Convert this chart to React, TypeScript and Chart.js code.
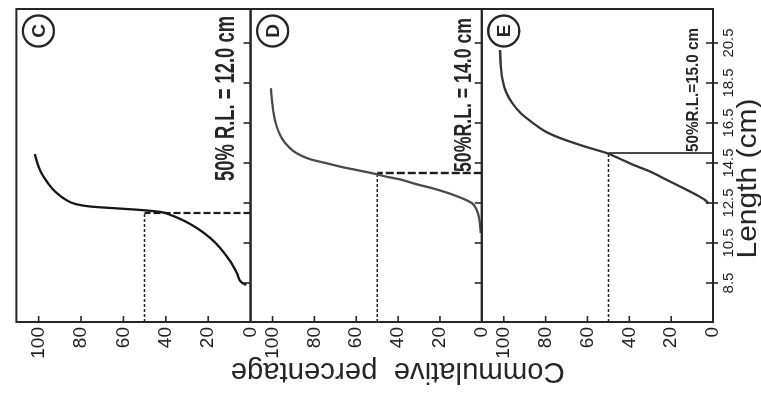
import { useEffect, useRef } from "react";
import { Chart, registerables } from "chart.js";

Chart.register(...registerables);

// ---------- data ----------
const panelNames = ["C", "D", "E"];
const lengthTicks = [8.5, 10.5, 12.5, 14.5, 16.5, 18.5, 20.5];
const percentTicks = [0, 20, 40, 60, 80, 100];
const lengthMin = 6.55;
const lengthMax = 22.2;
const percentMax = 110.5;

const lengthC = [8.4, 8.52, 8.99, 9.57, 10.24, 10.74, 11.24, 11.62, 11.9, 12.05, 12.15, 12.24, 12.32, 12.44, 12.65, 13.02, 13.49, 13.99, 14.49, 14.95];
const percentC = [2.0, 4.2, 6.4, 9.5, 14.2, 18.9, 25.2, 31.5, 37.7, 42.4, 51.8, 64.3, 75.3, 82.3, 87.0, 91.7, 95.6, 98.7, 100.6, 101.8];

const lengthD = [11.0, 11.65, 12.15, 12.49, 12.74, 12.99, 13.24, 13.45, 13.69, 13.82, 13.95, 14.12, 14.29, 14.49, 14.69, 14.99, 15.32, 15.74, 16.32, 16.99, 17.65, 18.24];
const percentD = [0.6, 1.1, 2.4, 4.7, 9.5, 15.8, 23.7, 31.6, 39.5, 45.8, 50.6, 58.4, 66.4, 74.3, 82.1, 88.5, 92.4, 95.6, 98.0, 99.5, 100.3, 100.8];

const lengthE = [12.49, 12.65, 12.9, 13.24, 13.65, 14.07, 14.4, 14.74, 14.99, 15.19, 15.45, 15.74, 16.07, 16.52, 16.99, 17.49, 18.07, 18.65, 19.32, 20.15];
const percentE = [2.2, 3.8, 7.8, 14.1, 22.0, 30.0, 37.9, 45.1, 50.6, 57.0, 64.9, 72.9, 80.0, 86.3, 91.9, 95.9, 99.0, 100.6, 101.4, 101.8];

const rl50 = [12.0, 14.0, 15.0];
const rlLabels = ["50% R.L. = 12.0 cm", "50%R.L. = 14.0 cm", "50%R.L.=15.0 cm"];
const xTitle = "Length (cm)";
const yTitle = "Commulative  percentage";

// ---------- styles ----------
const INK = "#262626";
const NARROW = "'Liberation Sans Narrow', 'Liberation Sans', Arial, sans-serif";
const SANS = "'Liberation Sans', Arial, sans-serif";
const curveColors = ["#161616", "#4a4a4a", "#353535"];
const rlLineDash = [[7, 3], [8, 3], []];
const rlLineWidth = [2.2, 2.4, 1.6];
// annotation style per panel: start (length units), baseline offset from panel bottom, target width, font
const annoStyle = [
  { start: 13.6, base: 17, width: 165, font: `bold 27px ${NARROW}` },
  { start: 14.05, base: 11, width: 154, font: `bold 23px ${NARROW}` },
  { start: 15.05, base: 15, width: 124, font: `600 17px ${NARROW}` },
];

function pts(xs: number[], ys: number[]) {
  return xs.map((x, i) => ({ x, y: ys[i] }));
}

function fittedText(ctx: CanvasRenderingContext2D, text: string, x: number, y: number, w: number, font: string, align: CanvasTextAlign, rot = 0) {
  ctx.save();
  ctx.font = font;
  const m = ctx.measureText(text).width;
  ctx.translate(x, y);
  if (rot) ctx.rotate(rot);
  ctx.scale(w / m, 1);
  ctx.textAlign = align;
  ctx.textBaseline = "alphabetic";
  ctx.fillText(text, 0, 0);
  ctx.restore();
}

const extras = {
  id: "extras",
  afterDatasetsDraw(chart: any) {
    const { ctx, chartArea: ca, scales } = chart;
    const xs = scales.x;
    const panels = [scales.yC, scales.yD, scales.yE];
    ctx.save();
    ctx.strokeStyle = INK;
    ctx.fillStyle = INK;
    const line = (x1: number, y1: number, x2: number, y2: number) => {
      ctx.beginPath();
      ctx.moveTo(x1, y1);
      ctx.lineTo(x2, y2);
      ctx.stroke();
    };
    panels.forEach((ys: any, i: number) => {
      ctx.lineWidth = 2;
      ctx.setLineDash([]);
      ctx.strokeRect(ca.left, ys.top, ca.right - ca.left, ys.bottom - ys.top);
      ctx.lineWidth = 1.6;
      percentTicks.forEach((v) => {
        if (v === 0) return;
        const py = ys.getPixelForValue(v);
        line(ca.left, py, ca.left + 6, py);
      });
      lengthTicks.forEach((v) => {
        const px = xs.getPixelForValue(v);
        line(px, ys.bottom - 7, px, ys.bottom + (i === 2 ? 5 : 0));
      });
      // circled panel letter
      const cx = ca.right - 22;
      const cy = ys.top + 22;
      ctx.lineWidth = 2.4;
      ctx.beginPath();
      ctx.arc(cx, cy, 15.5, 0, Math.PI * 2);
      ctx.stroke();
      ctx.font = `bold 19px ${SANS}`;
      ctx.textAlign = "center";
      ctx.textBaseline = "middle";
      ctx.fillText(panelNames[i], cx, cy + 1);
      // 50% retention length annotation
      const a = annoStyle[i];
      fittedText(ctx, rlLabels[i], xs.getPixelForValue(a.start), ys.bottom - a.base, a.width, a.font, "left");
    });
    // axis titles
    const xMid = xs.getPixelForValue((lengthMin + lengthMax) / 2) - 13;
    fittedText(ctx, xTitle, xMid, 756, 160, `28px ${SANS}`, "center");
    const yMid = (panels[0].top + panels[2].bottom) / 2 + 33;
    fittedText(ctx, yTitle, 32, yMid, 334, `29px ${SANS}`, "center", -Math.PI / 2);
    ctx.restore();
  },
};

export default function App() {
  const ref = useRef<HTMLCanvasElement>(null);
  useEffect(() => {
    if (!ref.current) return;
    const curves = [pts(lengthC, percentC), pts(lengthD, percentD), pts(lengthE, percentE)];
    const axisIds = ["yC", "yD", "yE"];
    const datasets: any[] = [];
    curves.forEach((data, i) => {
      datasets.push({
        label: `Panel ${panelNames[i]}`,
        data,
        yAxisID: axisIds[i],
        showLine: true,
        pointRadius: 0,
        borderColor: curveColors[i],
        borderWidth: 2.3,
        cubicInterpolationMode: "monotone",
        fill: false,
      });
      datasets.push({
        label: `RL ${panelNames[i]}`,
        data: [{ x: rl50[i], y: 0 }, { x: rl50[i], y: 50 }],
        yAxisID: axisIds[i],
        showLine: true,
        pointRadius: 0,
        borderColor: "#1c1c1c",
        borderWidth: rlLineWidth[i],
        borderDash: rlLineDash[i],
      });
      datasets.push({
        label: `50% ${panelNames[i]}`,
        data: [{ x: lengthMin, y: 50 }, { x: rl50[i], y: 50 }],
        yAxisID: axisIds[i],
        showLine: true,
        pointRadius: 0,
        borderColor: "#222",
        borderWidth: 1.5,
        borderDash: [3, 2],
      });
    });

    const yAxis = (weight: number, order: number) => ({
      type: "linear",
      position: "left",
      stack: "pct",
      stackWeight: weight,
      weight: order,
      min: 0,
      max: percentMax,
      afterBuildTicks: (s: any) => {
        s.ticks = percentTicks.map((v) => ({ value: v }));
      },
      afterFit: (s: any) => {
        s.width = 73;
      },
      grid: { display: false, drawTicks: false },
      border: { display: false },
      ticks: {
        autoSkip: false,
        padding: 5,
        color: "#1e1e1e",
        font: { family: NARROW, size: 19 },
        callback: (v: any) => String(v),
      },
    });

    const chart = new Chart(ref.current, {
      type: "scatter",
      data: { datasets },
      options: {
        animation: false,
        responsive: false,
        maintainAspectRatio: false,
        layout: { padding: { left: 0, top: 11, right: 9, bottom: 0 } },
        plugins: { legend: { display: false }, tooltip: { enabled: false } },
        scales: {
          x: {
            type: "linear",
            position: "bottom",
            min: lengthMin,
            max: lengthMax,
            afterBuildTicks: (s: any) => {
              s.ticks = lengthTicks.map((v) => ({ value: v }));
            },
            afterFit: (s: any) => {
              s.height = 48;
            },
            grid: { display: false, drawTicks: false },
            border: { display: false },
            ticks: {
              autoSkip: false,
              padding: 7,
              maxRotation: 0,
              color: "#1e1e1e",
              font: { family: NARROW, size: 15 },
              callback: (v: any) => String(v),
            },
          },
          yE: yAxis(233, 1),
          yD: yAxis(233, 2),
          yC: yAxis(236, 3),
        } as any,
      },
      plugins: [extras],
    } as any);
    return () => chart.destroy();
  }, []);

  return (
    <div style={{ position: "fixed", left: 0, top: 0, width: 761, height: 395, overflow: "hidden", background: "#fff" }}>
      <div
        style={{
          position: "absolute",
          left: 0,
          top: 0,
          width: 395,
          height: 761,
          transformOrigin: "0 0",
          transform: "translateY(395px) rotate(-90deg)",
        }}
      >
        <canvas ref={ref} width={395} height={761} style={{ display: "block", width: 395, height: 761 }} />
      </div>
    </div>
  );
}
